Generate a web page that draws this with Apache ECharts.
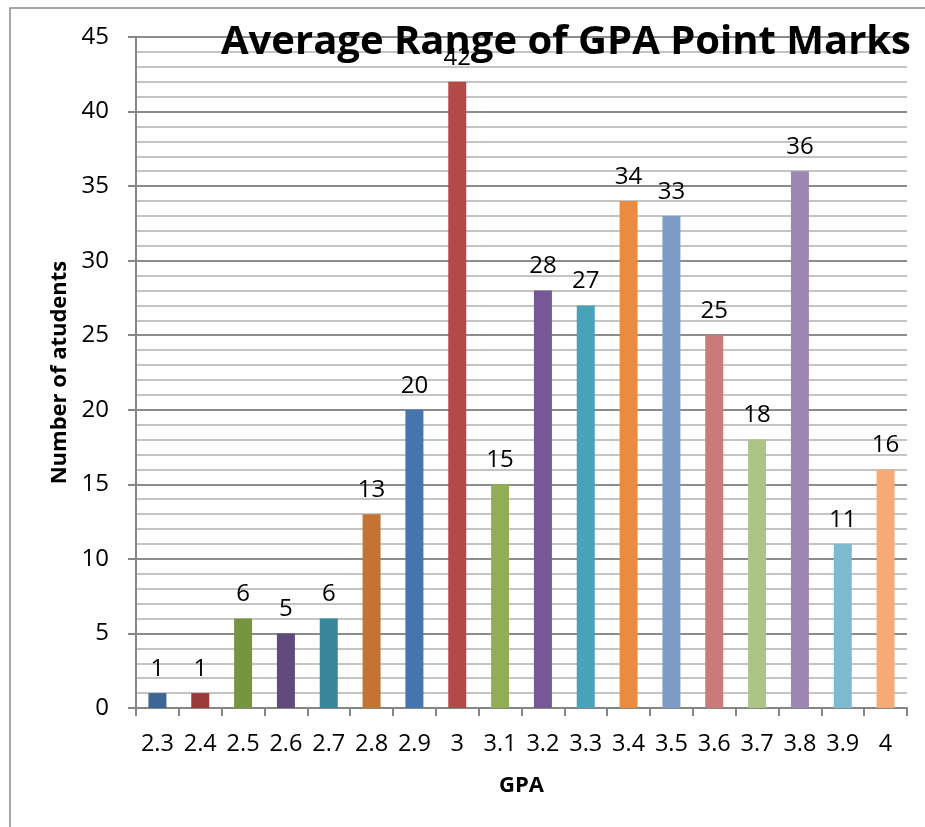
<!DOCTYPE html>
<html>
<head>
<meta charset="utf-8">
<script src="https://cdn.jsdelivr.net/npm/echarts@6/dist/echarts.min.js"></script>
<style>
  html, body { margin: 0; padding: 0; background: #fff; }
  #chart { width: 925px; height: 827px; }
</style>
</head>
<body>
<div id="chart"></div>
<script>
// 数据
const gpaList = ['2.3', '2.4', '2.5', '2.6', '2.7', '2.8', '2.9', '3', '3.1', '3.2', '3.3', '3.4', '3.5', '3.6', '3.7', '3.8', '3.9', '4']
const studentCount = [1, 1, 6, 5, 6, 13, 20, 42, 15, 28, 27, 34, 33, 25, 18, 36, 11, 16]
const yMin = 0, yMax = 45, yStep = 5

// 每根柱子的颜色 (Excel 风格)
const barColors = [
  '#3d6696', '#9a3b3a', '#779441', '#614a7c', '#388699', '#c37432',
  '#4675ad', '#b34a48', '#92ae54', '#765896', '#48a2ba', '#e98c3f',
  '#7f9cc8', '#c97a7a', '#adc484', '#9b87b2', '#7db9cf', '#f6aa78'
]

const font = 'Open Sans'
const myChart = echarts.init(document.getElementById('chart'))

const chartOption = {
  animation: false,
  backgroundColor: '#fff',
  title: {
    text: 'Average Range of GPA Point Marks',
    left: 561,
    top: 18,
    textAlign: 'center',
    textStyle: { fontFamily: font, fontWeight: 'bold', fontSize: 40, color: '#000' }
  },
  graphic: [{
    type: 'rect',
    z: -1,
    shape: { x: 10, y: 8, width: 1000, height: 1000 },
    style: { fill: 'none', stroke: '#8a8a8a', lineWidth: 1.5 }
  }],
  grid: { left: 136, right: 18, top: 37, bottom: 119 },
  xAxis: {
    type: 'category',
    data: gpaList,
    name: 'GPA',
    nameLocation: 'middle',
    nameGap: 67,
    nameTextStyle: { fontFamily: font, fontWeight: 'bold', fontSize: 22, color: '#000' },
    axisLine: { lineStyle: { color: '#868686', width: 2 } },
    axisTick: { show: true, interval: 0, length: 8, lineStyle: { color: '#868686', width: 2 } },
    axisLabel: { interval: 0, hideOverlap: false, margin: 24, fontFamily: font, fontSize: 23.5, color: '#000' }
  },
  yAxis: {
    type: 'value',
    min: yMin,
    max: yMax,
    interval: yStep,
    name: 'Number of atudents',
    nameLocation: 'middle',
    nameGap: 62,
    nameTextStyle: { fontFamily: font, fontWeight: 'bold', fontSize: 22, color: '#000' },
    axisLine: { show: true, lineStyle: { color: '#868686', width: 2 } },
    axisTick: { show: true, length: 8, lineStyle: { color: '#868686', width: 2 } },
    axisLabel: { margin: 27, fontFamily: font, fontSize: 24, color: '#000' },
    splitLine: { lineStyle: { color: '#8c8c8c', width: 2 } },
    minorTick: { show: false, splitNumber: 5 },
    minorSplitLine: { show: true, lineStyle: { color: '#c4c4c4', width: 2 } }
  },
  series: [{
    type: 'bar',
    barWidth: 18,
    data: studentCount.map((v, i) => ({ value: v, itemStyle: { color: barColors[i % barColors.length] } })),
    label: {
      show: true,
      position: 'top',
      distance: 12,
      fontFamily: font,
      fontSize: 24,
      color: '#000'
    }
  }]
}

myChart.setOption(chartOption)
</script>
</body>
</html>
